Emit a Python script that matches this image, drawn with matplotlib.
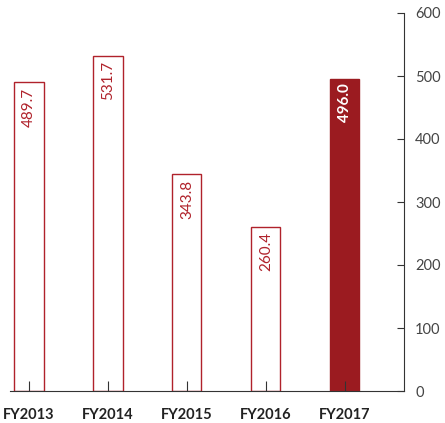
import matplotlib
matplotlib.use("Agg")
import matplotlib.pyplot as plt

years = ["FY2013", "FY2014", "FY2015", "FY2016", "FY2017"]
values = [489.7, 531.7, 343.8, 260.4, 496.0]
yticks = [0, 100, 200, 300, 400, 500, 600]

red = "#9b1b20"
edge = "#b0222b"

plt.rcParams['font.family'] = ['Lato', 'DejaVu Sans']

fig = plt.figure(figsize=(4.45, 4.23), dpi=100)
ax = fig.add_axes([10/445, 32/423, 394/445, 378/423])

x = list(range(len(years)))
for i, v in enumerate(values):
    last = i == len(values) - 1
    ax.bar(i, v, width=0.37, color=red if last else "white",
           edgecolor=red if last else edge, linewidth=1.0)
    ax.text(i, v - 8, f"{v:.1f}", rotation=90, ha="center", va="top",
            fontsize=11, color="white" if last else edge,
            fontweight="bold" if last else "normal")

ax.set_xlim(-0.24, 4.75)
ax.set_ylim(0, 600)
ax.set_xticks(x)
ax.set_xticklabels(years, fontweight="bold", fontsize=10.5, color="#222222")
ax.set_yticks(yticks)
ax.set_yticklabels([str(t) for t in yticks], fontsize=10.5, color="#444444")

ax.yaxis.tick_right()
for s in ["top", "left"]:
    ax.spines[s].set_visible(False)
ax.spines["right"].set_color("#333333")
ax.spines["bottom"].set_color("#333333")
ax.tick_params(axis="y", direction="in", length=5, pad=8, color="#333333")
ax.tick_params(axis="x", direction="in", length=7, pad=12, color="#333333")

fig.savefig("out.png", dpi=100)
